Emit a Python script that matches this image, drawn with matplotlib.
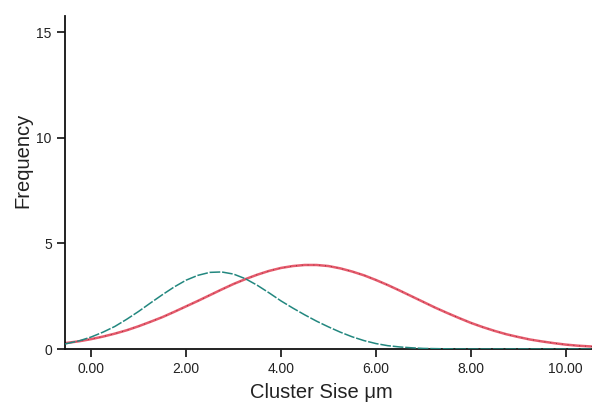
import matplotlib.pyplot as plt
import numpy as np

plt.rcParams['font.family'] = ['Liberation Sans', 'DejaVu Sans']

# values
size = [-0.55, -0.25, 0.0, 0.25, 0.5, 0.75, 1.0, 1.25, 1.5, 1.75, 2.0, 2.25, 2.5, 2.75,
        3.0, 3.25, 3.5, 3.75, 4.0, 4.25, 4.5, 4.75, 5.0, 5.25, 5.5, 5.75, 6.0, 6.25,
        6.5, 6.75, 7.0, 7.25, 7.5, 7.75, 8.0, 8.25, 8.5, 8.75, 9.0, 9.25, 9.5, 9.75,
        10.0, 10.25, 10.55]
freq_small = [0.24, 0.39, 0.57, 0.80, 1.07, 1.41, 1.78, 2.18, 2.57, 2.94, 3.26, 3.49,
              3.63, 3.65, 3.55, 3.33, 3.02, 2.66, 2.28, 1.94, 1.62, 1.32, 1.05, 0.80,
              0.58, 0.40, 0.26, 0.16, 0.10, 0.06, 0.03, 0.02, 0.01, 0.0, 0.0, 0.0,
              0.0, 0.0, 0.0, 0.0, 0.0, 0.0, 0.0, 0.0, 0.0]
freq_large = [0.28, 0.37, 0.47, 0.59, 0.73, 0.89, 1.08, 1.29, 1.51, 1.76, 2.02, 2.28,
              2.55, 2.82, 3.08, 3.31, 3.52, 3.70, 3.84, 3.93, 3.98, 3.98, 3.93, 3.82,
              3.67, 3.49, 3.27, 3.03, 2.77, 2.50, 2.23, 1.96, 1.71, 1.47, 1.24, 1.04,
              0.86, 0.70, 0.57, 0.45, 0.36, 0.28, 0.21, 0.16, 0.12]
x_ticks = [0, 2, 4, 6, 8, 10]
y_ticks = [0, 5, 10, 15]

fig = plt.figure(figsize=(5.92, 4.04), dpi=100)
ax = fig.add_axes([0.1098, 0.136, 0.890, 0.824])

ax.plot(size, freq_small, color="#22877f", lw=1.1, ls=(0, (7, 1.2)), zorder=3)
ax.plot(size, freq_large, color="#e65a6c", lw=1.8, zorder=2)
ax.plot(size, freq_large, color="#7a2a30", lw=0.6, ls=(0, (1, 6)), zorder=2.5)

ax.set_xlim(-0.55, 10.55)
ax.set_ylim(0, 15.76)
ax.set_xticks(x_ticks)
ax.set_xticklabels(["%.2f" % v for v in x_ticks])
ax.set_yticks(y_ticks)

for s in ["top", "right"]:
    ax.spines[s].set_visible(False)
for s in ["left", "bottom"]:
    ax.spines[s].set_linewidth(1.3)
    ax.spines[s].set_color("#111111")
ax.spines["bottom"].set_zorder(1)

ax.tick_params(direction="out", length=6, width=1.3, labelsize=10, colors="#222222")
ax.set_xlabel("Cluster Sise \u03bcm", fontsize=14.5, color="#222222")
ax.set_ylabel("Frequency", fontsize=14.5, color="#222222")
ax.xaxis.set_label_coords(0.486, -0.103)
ax.yaxis.set_label_coords(-0.061, 0.568)

fig.savefig("out.png", dpi=100)
